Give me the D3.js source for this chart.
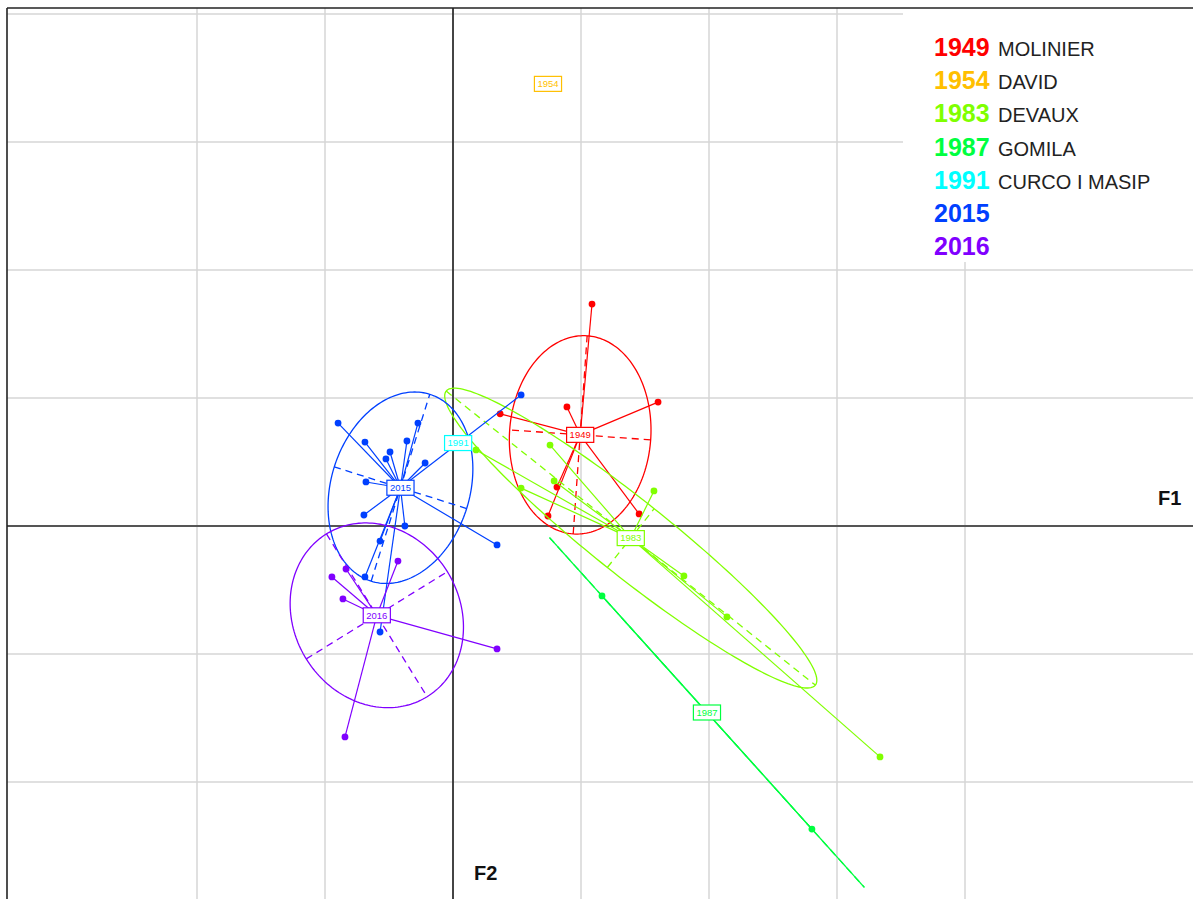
<!DOCTYPE html>
<html><head><meta charset="utf-8">
<script src="https://cdn.jsdelivr.net/npm/d3@7"></script>
<style>body{margin:0;background:#fff}svg{display:block}</style>
</head><body>
<svg id="c" width="1193" height="899"></svg>
<script>
// ---- data ----
const groups  = ["1949","1954","1983","1987","1991","2015","2016"];
const authors = ["MOLINIER","DAVID","DEVAUX","GOMILA","CURCO I MASIP","",""];
const colors  = ["#FF0000","#FFBF00","#80FF00","#00FF40","#00FFFF","#0040FF","#8000FF"];
const gridX = [-1,-0.5,0,0.5,1,1.5,2];
const gridY = [-1,-0.5,0,0.5,1,1.5,2];
const axisNames = ["F1","F2"];

// observations: group, F1 score, F2 score
const obsGroup = [
  "1949","1949","1949","1949","1949","1949","1949","1949",
  "1954",
  "1983","1983","1983","1983","1983","1983","1983","1983",
  "1987","1987",
  "1991",
  "2015","2015","2015","2015","2015","2015","2015","2015","2015","2015","2015","2015","2015","2015","2015",
  "2016","2016","2016","2016","2016","2016"
];
const obsF1 = [
  0.543,0.801,0.445,0.184,0.406,0.371,0.727,0.497,
  0.371,
  0.090,0.379,0.395,0.266,0.785,0.902,1.070,1.668,
  0.582,1.402,
  0.020,
  -0.449,-0.137,-0.344,-0.180,-0.246,-0.262,-0.109,-0.340,-0.348,-0.188,-0.285,0.172,0.266,-0.344,-0.285,
  -0.215,-0.418,-0.473,-0.430,0.172,-0.422
];
const obsF2 = [
  0.867,0.484,0.465,0.438,0.152,0.039,0.047,0.356,
  1.727,
  0.297,0.316,0.176,0.148,0.137,-0.195,-0.355,-0.902,
  -0.273,-1.184,
  0.324,
  0.402,0.402,0.328,0.332,0.289,0.262,0.246,0.172,0.043,0.000,-0.059,-0.074,0.512,-0.199,-0.414,
  -0.137,-0.168,-0.199,-0.285,-0.480,-0.824
];

// ---- drawing ----
const W = 1193, H = 899;
const svg = d3.select("#c");
const x = d3.scaleLinear().domain([-1.7422, 2.8906]).range([7, 1193]);
const y = d3.scaleLinear().domain([-1.457, 2.0234]).range([899, 8]);
const FONT = "'Liberation Sans', Arial, sans-serif";

svg.append("rect").attr("width", W).attr("height", H).attr("fill", "#fff");
svg.append("defs").append("clipPath").attr("id", "pc")
  .append("rect").attr("x", 7).attr("y", 8).attr("width", W - 7).attr("height", H - 8);
const g = svg.append("g").attr("clip-path", "url(#pc)");

// grid
g.selectAll(".gx").data(gridX).join("line").attr("class", "gx")
  .attr("x1", d => x(d)).attr("x2", d => x(d)).attr("y1", 8).attr("y2", H)
  .attr("stroke", "#d6d6d6").attr("stroke-width", 1.5);
g.selectAll(".gy").data(gridY).join("line").attr("class", "gy")
  .attr("y1", d => y(d)).attr("y2", d => y(d)).attr("x1", 7).attr("x2", W)
  .attr("stroke", "#d6d6d6").attr("stroke-width", 1.5);

// legend background hides the grid
g.append("rect").attr("x", 903).attr("y", 8).attr("width", W - 903).attr("height", 254).attr("fill", "#fff");

// axes
g.append("line").attr("x1", 7).attr("x2", W).attr("y1", y(0)).attr("y2", y(0))
  .attr("stroke", "#555").attr("stroke-width", 2);
g.append("line").attr("x1", x(0)).attr("x2", x(0)).attr("y1", 8).attr("y2", H)
  .attr("stroke", "#111").attr("stroke-width", 1.5);

// frame (top and left visible)
svg.append("line").attr("x1", 7).attr("x2", W).attr("y1", 8).attr("y2", 8).attr("stroke", "#222").attr("stroke-width", 1.6);
svg.append("line").attr("x1", 7).attr("x2", 7).attr("y1", 8).attr("y2", H).attr("stroke", "#222").attr("stroke-width", 1.6);

const line = d3.line().x(d => x(d[0])).y(d => y(d[1]));
const centers = [];

groups.forEach((gname, i) => {
  const col = colors[i];
  const idx = obsGroup.map((v, j) => v === gname ? j : -1).filter(j => j >= 0);
  const px = idx.map(j => obsF1[j]), py = idx.map(j => obsF2[j]);
  const n = idx.length;
  const mx = d3.mean(px), my = d3.mean(py);
  centers.push([mx, my]);
  const gg = g.append("g");
  if (n >= 2) {
    let a = 0, b = 0, c = 0;
    for (let k = 0; k < n; k++) {
      const dx = px[k] - mx, dy = py[k] - my;
      a += dx * dx; b += dx * dy; c += dy * dy;
    }
    a /= n; b /= n; c /= n;
    const half = (a + c) / 2, r = Math.sqrt(((a - c) / 2) ** 2 + b * b);
    const l1 = half + r, l2 = Math.max(0, half - r);
    const th = 0.5 * Math.atan2(2 * b, a - c);
    const v1 = [Math.cos(th), Math.sin(th)], v2 = [-Math.sin(th), Math.cos(th)];
    const A = 1.5 * Math.sqrt(l1), B = 1.5 * Math.sqrt(l2);
    const pts = d3.range(0, 201).map(k => {
      const t = k / 200 * 2 * Math.PI;
      return [mx + A * Math.cos(t) * v1[0] + B * Math.sin(t) * v2[0],
              my + A * Math.cos(t) * v1[1] + B * Math.sin(t) * v2[1]];
    });
    gg.append("path").attr("d", line(pts)).attr("fill", "none").attr("stroke", col).attr("stroke-width", 1.3);
    // dashed ellipse axes
    [[v1, A], [v2, B]].forEach(([v, L]) => {
      if (L <= 1e-6) return;
      gg.append("path").attr("d", line([[mx - L * v[0], my - L * v[1]], [mx + L * v[0], my + L * v[1]]]))
        .attr("stroke", col).attr("stroke-width", 1.3).attr("stroke-dasharray", "7,5").attr("fill", "none");
    });
    // stars
    for (let k = 0; k < n; k++) {
      gg.append("path").attr("d", line([[px[k], py[k]], [mx, my]]))
        .attr("stroke", col).attr("stroke-width", 1.2).attr("fill", "none");
    }
  }
  for (let k = 0; k < n; k++) {
    gg.append("circle").attr("cx", x(px[k])).attr("cy", y(py[k])).attr("r", 3.4).attr("fill", col);
  }
});

// class labels
groups.forEach((gname, i) => {
  const [mx, my] = centers[i];
  const lg = g.append("g");
  const t = lg.append("text").attr("x", x(mx)).attr("y", y(my)).attr("dy", "0.35em")
    .attr("text-anchor", "middle").attr("font-family", FONT).attr("font-size", 9.5)
    .attr("fill", colors[i]).text(gname);
  const bb = t.node().getBBox();
  lg.insert("rect", "text").attr("x", x(mx) - bb.width / 2 - 3).attr("y", y(my) - 7.5)
    .attr("width", bb.width + 6).attr("height", 15)
    .attr("fill", "#fff").attr("stroke", colors[i]).attr("stroke-width", 1.2);
});

// axis names
svg.append("text").attr("x", 1158).attr("y", 505).attr("font-family", FONT).attr("font-weight", "bold")
  .attr("font-size", 20).attr("fill", "#111").text(axisNames[0]);
svg.append("text").attr("x", 474).attr("y", 880).attr("font-family", FONT).attr("font-weight", "bold")
  .attr("font-size", 20).attr("fill", "#111").text(axisNames[1]);

// legend
const leg = svg.append("g");
groups.forEach((gname, i) => {
  const by = 56 + i * 33.2;
  leg.append("text").attr("x", 934).attr("y", by).attr("font-family", FONT).attr("font-weight", "bold")
    .attr("font-size", 25).attr("fill", colors[i]).text(gname);
  if (authors[i]) leg.append("text").attr("x", 998).attr("y", by).attr("font-family", FONT)
    .attr("font-size", 20).attr("fill", "#222").text(authors[i]);
});
</script>
</body></html>
